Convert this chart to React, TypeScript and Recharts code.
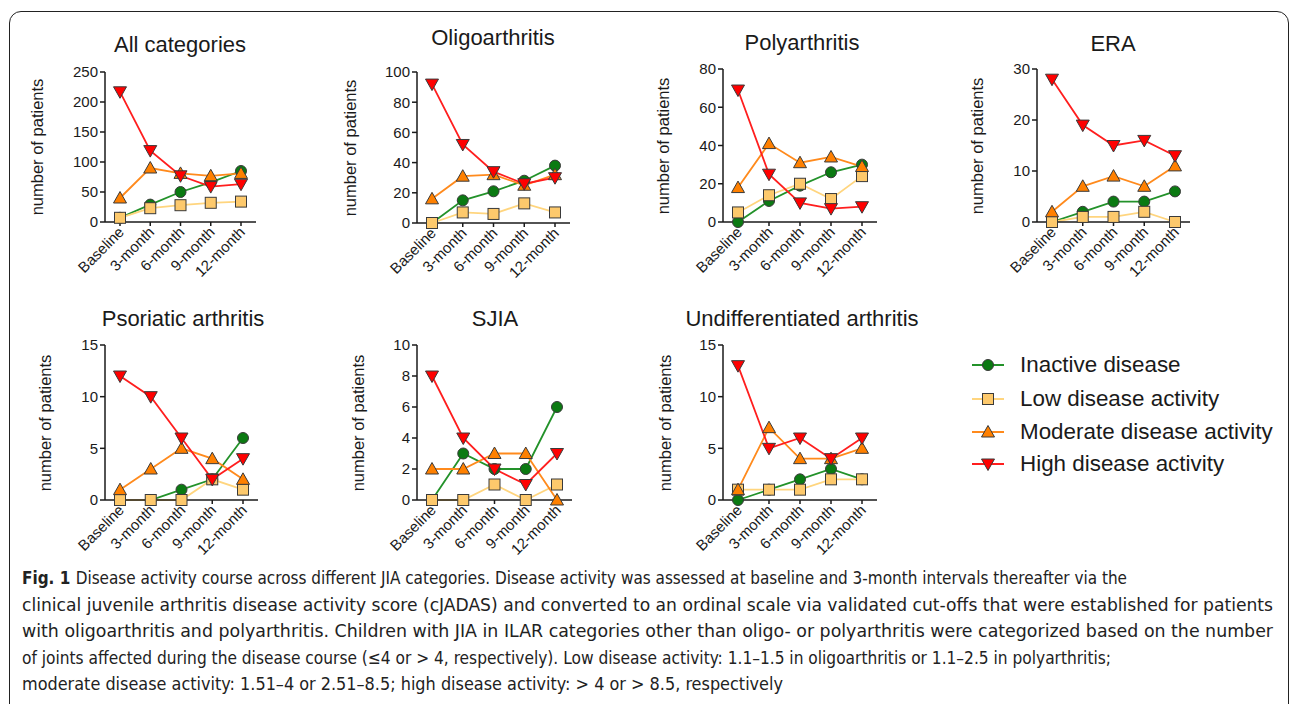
import { useLayoutEffect, useRef, useState } from 'react';
import { LineChart, Line, XAxis, YAxis } from 'recharts';

const timepoints = ['Baseline', '3-month', '6-month', '9-month', '12-month'];

// All categories
const allInactive = [7, 29, 50, 66, 85];
const allLow = [7, 23, 28, 32, 34];
const allModerate = [40, 90, 81, 77, 81];
const allHigh = [217, 119, 77, 59, 63];

// Oligoarthritis
const oligoInactive = [0, 15, 21, 28, 38];
const oligoLow = [0, 7, 6, 13, 7];
const oligoModerate = [16, 31, 32, 25, 32];
const oligoHigh = [92, 52, 34, 26, 30];

// Polyarthritis
const polyInactive = [0, 11, 19, 26, 30];
const polyLow = [5, 14, 20, 12, 24];
const polyModerate = [18, 41, 31, 34, 29];
const polyHigh = [69, 25, 10, 7, 8];

// ERA
const eraInactive = [0, 2, 4, 4, 6];
const eraLow = [0, 1, 1, 2, 0];
const eraModerate = [2, 7, 9, 7, 11];
const eraHigh = [28, 19, 15, 16, 13];

// Psoriatic arthritis
const psoInactive = [0, 0, 1, 2, 6];
const psoLow = [0, 0, 0, 2, 1];
const psoModerate = [1, 3, 5, 4, 2];
const psoHigh = [12, 10, 6, 2, 4];

// SJIA
const sjiaInactive = [0, 3, 2, 2, 6];
const sjiaLow = [0, 0, 1, 0, 1];
const sjiaModerate = [2, 2, 3, 3, 0];
const sjiaHigh = [8, 4, 2, 1, 3];

// Undifferentiated arthritis
const undiffInactive = [0, 1, 2, 3, 2];
const undiffLow = [1, 1, 1, 2, 2];
const undiffModerate = [1, 7, 4, 4, 5];
const undiffHigh = [13, 5, 6, 4, 6];

const legendLabels = ['Inactive disease', 'Low disease activity', 'Moderate disease activity', 'High disease activity'];

const FONT = '"Liberation Sans", Arial, Helvetica, sans-serif';
const INK = '#1a1a1a';

const SERIES = [
  { key: 'inactive', line: '#23922a', fill: '#0b7a12', shape: 'circle' },
  { key: 'low', line: '#ffd57e', fill: '#fdc96c', shape: 'square' },
  { key: 'moderate', line: '#ff8a1c', fill: '#ff8000', shape: 'up' },
  { key: 'high', line: '#ff1e1e', fill: '#ff0000', shape: 'down' },
];

function Marker({ cx, cy, shape, fill }: any) {
  if (cx == null || cy == null) return null;
  const st = { fill, stroke: '#3a3a3a', strokeWidth: 1 };
  if (shape === 'circle') return <circle cx={cx} cy={cy} r={5.5} {...st} />;
  if (shape === 'square') return <rect x={cx - 5.5} y={cy - 5.5} width={11} height={11} {...st} />;
  if (shape === 'up')
    return <polygon points={`${cx - 6.5},${cy + 5} ${cx + 6.5},${cy + 5} ${cx},${cy - 6.5}`} {...st} />;
  return <polygon points={`${cx - 6.5},${cy - 5} ${cx + 6.5},${cy - 5} ${cx},${cy + 6.5}`} {...st} />;
}

const XTick = ({ x, y, payload }: any) => (
  <text
    x={x + 5}
    y={y + 5}
    textAnchor="end"
    fontSize={15}
    fontFamily={FONT}
    fill={INK}
    transform={`rotate(-45 ${x + 5} ${y + 5})`}
  >
    {payload.value}
  </text>
);

const panels = [
  { title: 'All categories', d: [allInactive, allLow, allModerate, allHigh], ticks: [0, 50, 100, 150, 200, 250], axisX: 105, top: 72, zero: 222, end: 256, tx: 180, ty: 45, lx: 37 },
  { title: 'Oligoarthritis', d: [oligoInactive, oligoLow, oligoModerate, oligoHigh], ticks: [0, 20, 40, 60, 80, 100], axisX: 417, top: 72, zero: 223, end: 570, tx: 493, ty: 38, lx: 350 },
  { title: 'Polyarthritis', d: [polyInactive, polyLow, polyModerate, polyHigh], ticks: [0, 20, 40, 60, 80], axisX: 723, top: 69, zero: 222, end: 877, tx: 802, ty: 43, lx: 663 },
  { title: 'ERA', d: [eraInactive, eraLow, eraModerate, eraHigh], ticks: [0, 10, 20, 30], axisX: 1037, top: 69, zero: 222, end: 1190, tx: 1113, ty: 44, lx: 977 },
  { title: 'Psoriatic arthritis', d: [psoInactive, psoLow, psoModerate, psoHigh], ticks: [0, 5, 10, 15], axisX: 105, top: 345, zero: 500, end: 258, tx: 183, ty: 319, lx: 45 },
  { title: 'SJIA', d: [sjiaInactive, sjiaLow, sjiaModerate, sjiaHigh], ticks: [0, 2, 4, 6, 8, 10], axisX: 417, top: 345, zero: 500, end: 572, tx: 495, ty: 319, lx: 358 },
  { title: 'Undifferentiated arthritis', d: [undiffInactive, undiffLow, undiffModerate, undiffHigh], ticks: [0, 5, 10, 15], axisX: 723, top: 345, zero: 500, end: 877, tx: 802, ty: 319, lx: 665 },
];

function Panel({ p }: any) {
  const YW = 50, MT = 12, MR = 12, XH = 80;
  const plotW = p.end - p.axisX;
  const plotH = p.zero - p.top;
  const data = timepoints.map((t, i) => ({
    t,
    inactive: p.d[0][i],
    low: p.d[1][i],
    moderate: p.d[2][i],
    high: p.d[3][i],
  }));
  return (
    <>
      <div style={{ position: 'absolute', left: p.tx, top: p.ty, transform: 'translate(-50%, -50%)', fontFamily: FONT, fontSize: 22, color: INK, whiteSpace: 'nowrap' }}>
        {p.title}
      </div>
      <div style={{ position: 'absolute', left: p.lx, top: (p.top + p.zero) / 2, transform: 'translate(-50%, -50%) rotate(-90deg)', fontFamily: FONT, fontSize: 16.5, color: INK, whiteSpace: 'nowrap' }}>
        number of patients
      </div>
      <div style={{ position: 'absolute', left: p.axisX - YW, top: p.top - MT }}>
        <LineChart width={YW + plotW + MR} height={MT + plotH + XH} data={data} margin={{ top: MT, right: MR, left: 0, bottom: 0 }}>
          <XAxis
            dataKey="t"
            interval={0}
            padding={{ left: 15, right: 15 }}
            height={XH}
            stroke={INK}
            strokeWidth={1.5}
            tickSize={4}
            tick={<XTick />}
          />
          <YAxis
            width={YW}
            domain={[0, p.ticks[p.ticks.length - 1]]}
            ticks={p.ticks}
            interval={0}
            stroke={INK}
            strokeWidth={1.5}
            tickSize={5}
            tickMargin={2}
            tick={{ fontSize: 15, fontFamily: FONT, fill: INK }}
          />
          {SERIES.map((s) => (
            <Line
              key={s.key}
              dataKey={s.key}
              type="linear"
              stroke={s.line}
              strokeWidth={1.8}
              isAnimationActive={false}
              dot={(dp: any) => <Marker key={`${s.key}-${dp.index}`} cx={dp.cx} cy={dp.cy} shape={s.shape} fill={s.fill} />}
              activeDot={false}
            />
          ))}
        </LineChart>
      </div>
    </>
  );
}

function Legend() {
  const rowY = [365, 399, 432, 464];
  return (
    <>
      {SERIES.map((s, i) => (
        <div key={s.key} style={{ position: 'absolute', left: 970, top: rowY[i] - 14, height: 28, display: 'flex', alignItems: 'center' }}>
          <svg width={36} height={28}>
            <line x1={2} y1={14} x2={34} y2={14} stroke={s.line} strokeWidth={2} />
            <Marker cx={18} cy={14} shape={s.shape} fill={s.fill} />
          </svg>
          <span style={{ marginLeft: 14, fontFamily: FONT, fontSize: 22.4, color: INK, whiteSpace: 'nowrap' }}>{legendLabels[i]}</span>
        </div>
      ))}
    </>
  );
}

const captionLines = [
  'Disease activity course across different JIA categories. Disease activity was assessed at baseline and 3-month intervals thereafter via the',
  'clinical juvenile arthritis disease activity score (cJADAS) and converted to an ordinal scale via validated cut-offs that were established for patients',
  'with oligoarthritis and polyarthritis. Children with JIA in ILAR categories other than oligo- or polyarthritis were categorized based on the number',
  'of joints affected during the disease course (≤4 or > 4, respectively). Low disease activity: 1.1–1.5 in oligoarthritis or 1.1–2.5 in polyarthritis;',
  'moderate disease activity: 1.51–4 or 2.51–8.5; high disease activity: > 4 or > 8.5, respectively',
];
// right edge of each caption line in the reference
const captionEnds = [1127, 1273, 1273, 1111, 783];

function CaptionLine({ i, text }: any) {
  const ref = useRef<HTMLSpanElement>(null);
  const [k, setK] = useState(1);
  useLayoutEffect(() => {
    if (ref.current) {
      const w = ref.current.getBoundingClientRect().width;
      if (w > 0) setK((captionEnds[i] - 22) / w);
    }
  }, [i]);
  return (
    <div style={{ height: 26.5 }}>
      <span ref={ref} style={{ display: 'inline-block', transform: `scaleX(${k})`, transformOrigin: 'left center' }}>
        {i === 0 && <b>Fig. 1 </b>}
        {text}
      </span>
    </div>
  );
}

export default function App() {
  return (
    <div style={{ position: 'absolute', left: 0, top: 0, width: 1290, height: 704, overflow: 'hidden', background: '#fff' }}>
      <div style={{ position: 'absolute', left: 9, top: 11, width: 1278, height: 760, border: '1.5px solid #222', borderRadius: 12 }} />
      {panels.map((p) => (
        <Panel key={p.title} p={p} />
      ))}
      <Legend />
      <div style={{ position: 'absolute', left: 22, top: 565, fontFamily: '"DejaVu Sans Condensed", "Liberation Sans Narrow", sans-serif', fontSize: 18, lineHeight: '26.5px', color: '#222', whiteSpace: 'nowrap' }}>
        {captionLines.map((l, i) => (
          <CaptionLine key={i} i={i} text={l} />
        ))}
      </div>
    </div>
  );
}
